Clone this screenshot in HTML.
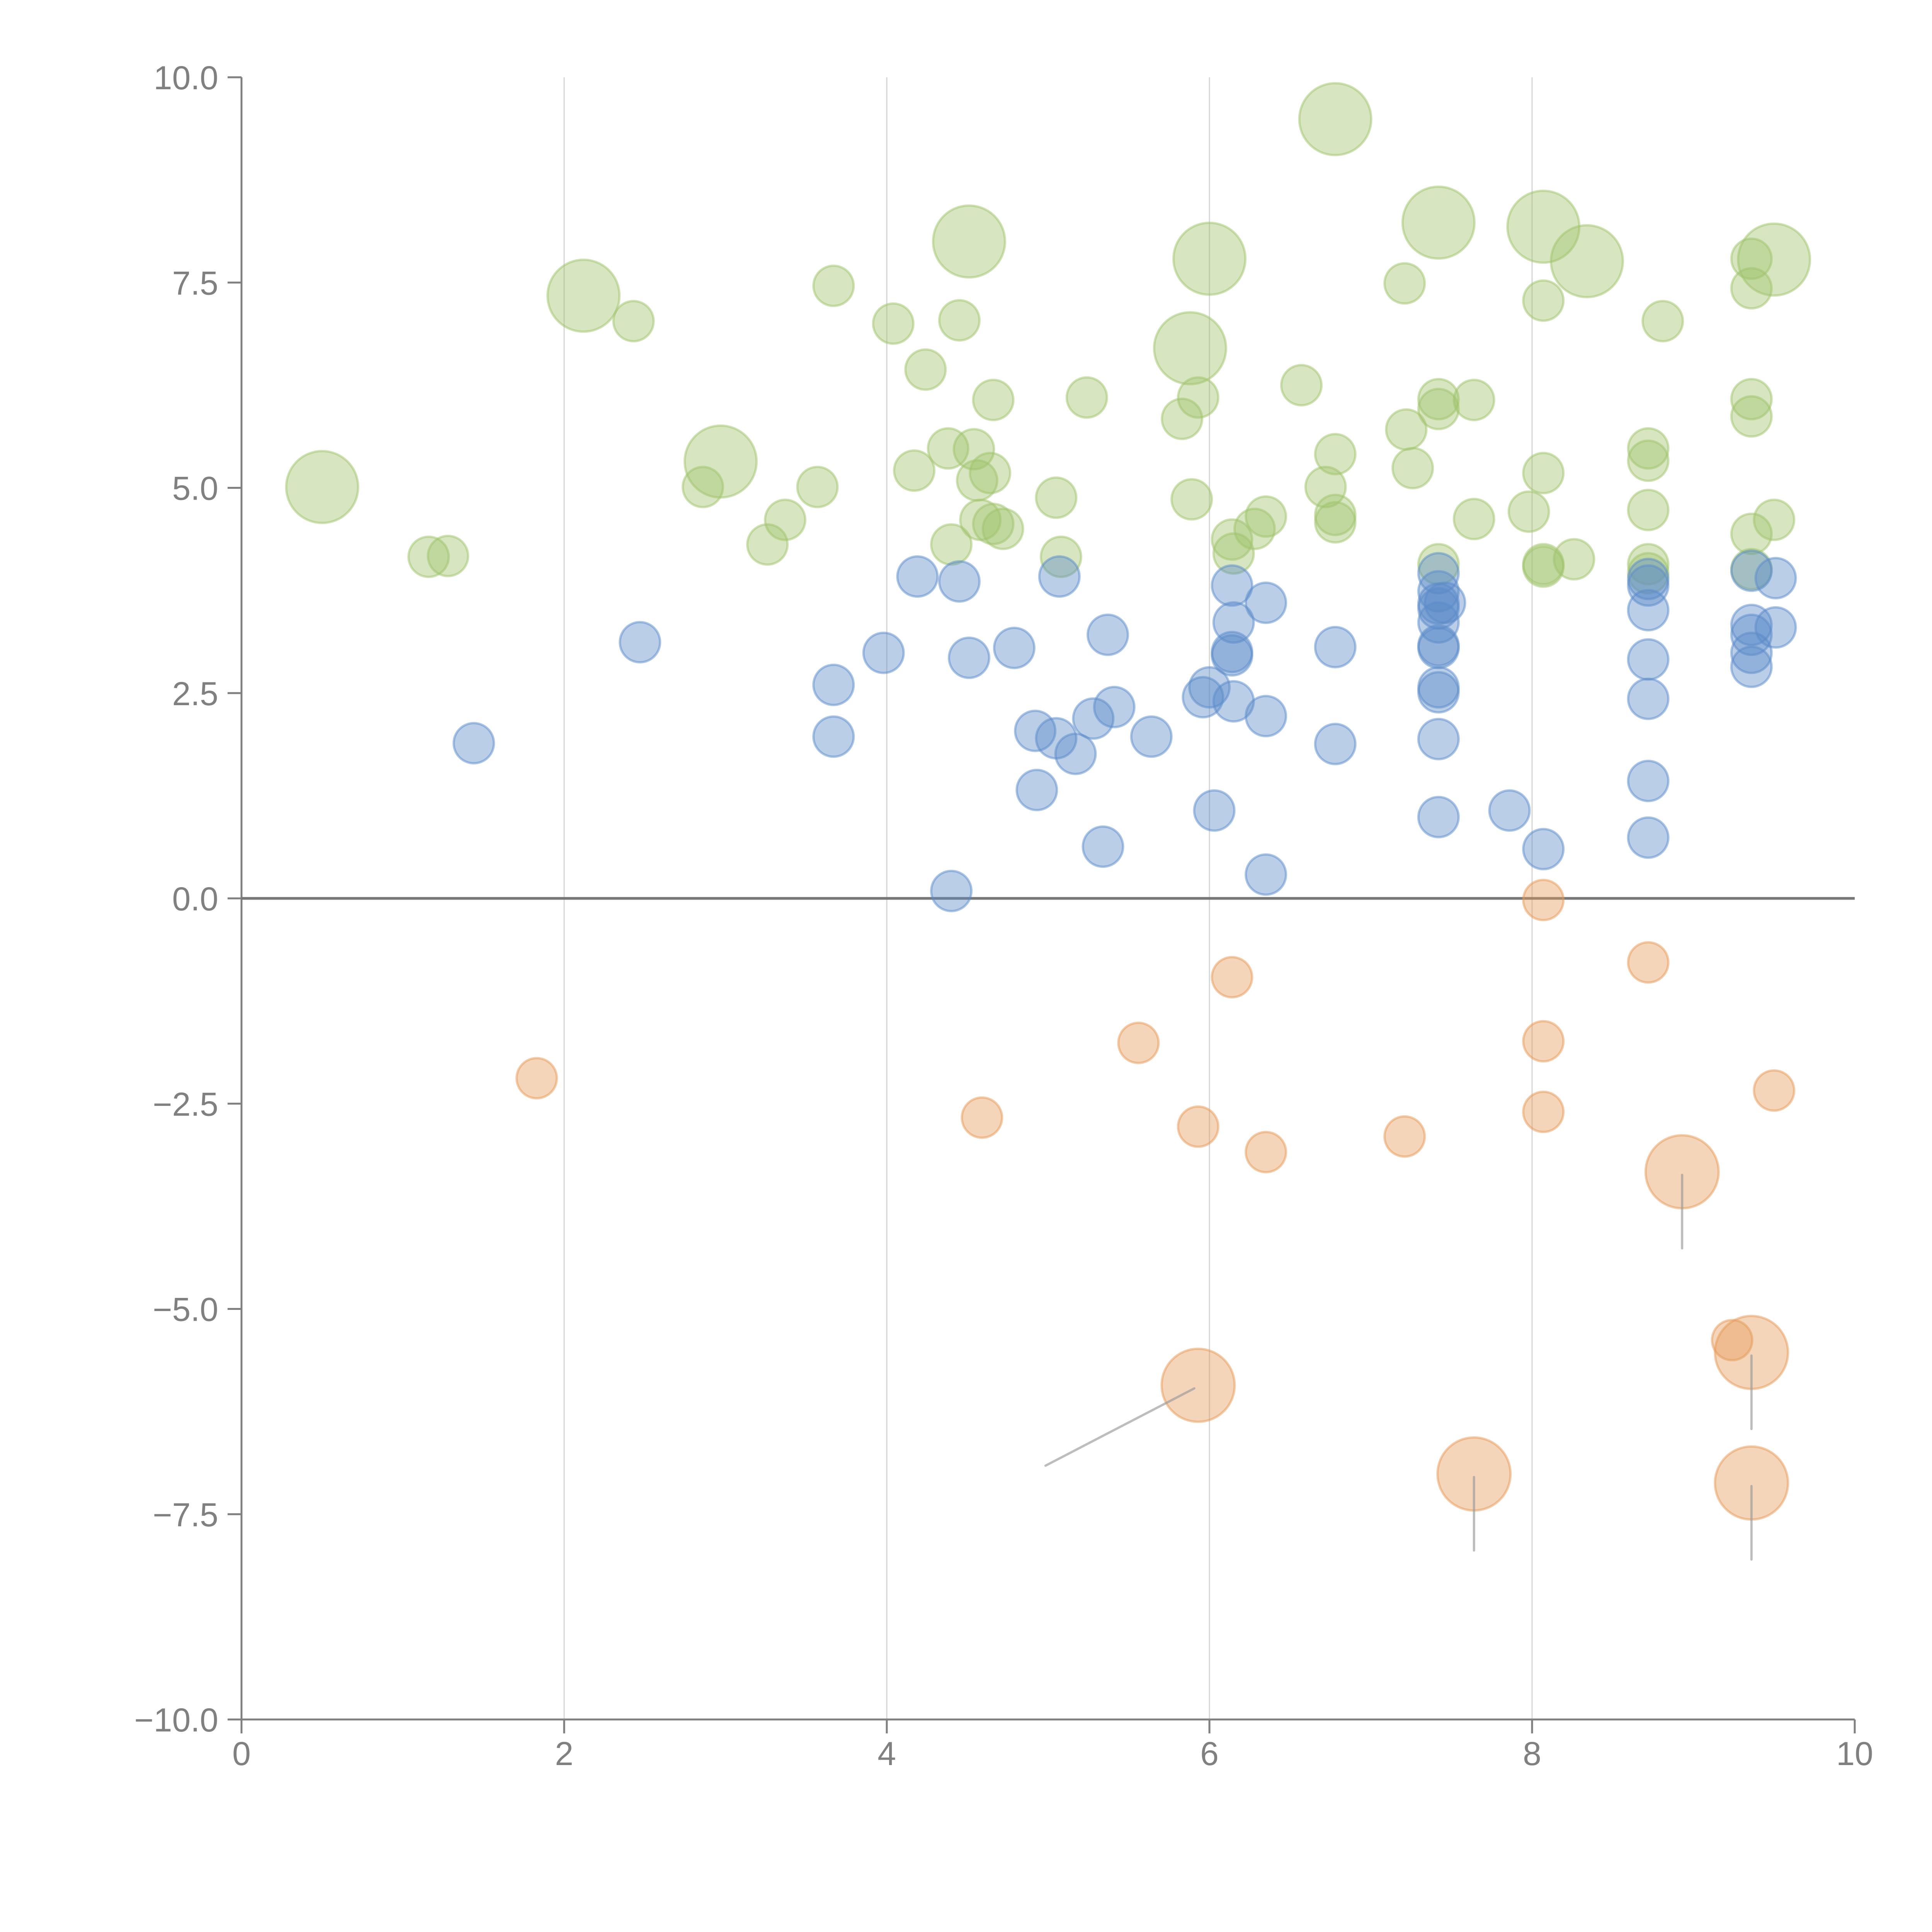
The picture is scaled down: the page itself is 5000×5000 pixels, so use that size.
<!DOCTYPE html>
<html><head><meta charset="utf-8"><style>html,body{margin:0;padding:0;background:#fff}svg{display:block}</style></head>
<body>
<svg id="chart" width="5000" height="5000" viewBox="0 0 5000 5000" xmlns="http://www.w3.org/2000/svg" font-family="Liberation Sans, Arial, sans-serif">
<g id="grid"></g>
<g id="axes"></g>
<g id="marks"></g>
<g id="leaders"></g>
</svg>
<script>
const xTicks=[0,2,4,6,8,10];
const xTickLabels=["0","2","4","6","8","10"];
const yTicks=[10,7.5,5,2.5,0,-2.5,-5,-7.5,-10];
const yTickLabels=["10.0","7.5","5.0","2.5","0.0","\u22122.5","\u22125.0","\u22127.5","\u221210.0"];
const greenX=[0.50,2.12,2.97,4.51,5.88,6.0,6.78,7.42,8.07,8.34,9.50,1.16,1.28,2.43,2.86,3.26,3.37,3.57,3.67,4.04,4.24,4.45,4.17,4.38,4.40,4.54,4.56,4.64,4.66,4.58,4.66,4.72,5.05,5.08,5.24,5.83,5.89,5.93,6.14,6.15,6.28,6.35,6.57,6.72,6.78,6.78,6.78,7.21,7.22,7.26,7.42,7.42,7.42,7.64,7.64,7.98,8.07,8.07,8.07,8.07,8.26,8.72,8.72,8.72,8.72,8.72,8.81,9.36,9.36,9.36,9.36,9.36,9.36,9.50];
const greenY=[5.01,7.34,5.32,8.0,6.70,7.79,9.49,8.23,8.18,7.76,7.78,4.16,4.17,7.03,5.01,4.31,4.61,5.01,7.46,7.0,6.44,7.04,5.21,5.48,4.31,5.47,5.09,5.18,6.07,4.61,4.56,4.50,4.88,4.16,6.10,5.84,4.86,6.10,4.37,4.20,4.50,4.65,6.25,5.01,5.41,4.67,4.58,7.49,5.71,5.24,6.08,5.96,4.07,6.07,4.62,4.71,7.28,5.18,4.07,4.04,4.13,5.48,5.33,4.73,4.07,3.96,7.03,7.79,7.43,6.08,5.87,4.44,4.01,4.61];
const greenSize=[3.2,3.2,3.2,3.2,3.2,3.2,3.2,3.2,3.2,3.2,3.2,1,1,1,1,1,1,1,1,1,1,1,1,1,1,1,1,1,1,1,1,1,1,1,1,1,1,1,1,1,1,1,1,1,1,1,1,1,1,1,1,1,1,1,1,1,1,1,1,1,1,1,1,1,1,1,1,1,1,1,1,1,1,1];
const blueX=[1.44,2.47,3.67,3.67,3.98,4.19,4.45,4.51,4.79,4.40,4.92,4.93,5.05,5.07,5.17,5.28,5.37,5.41,5.34,5.64,5.96,6.0,6.03,6.14,6.15,6.14,6.14,6.15,6.35,6.35,6.35,6.78,6.78,7.42,7.42,7.42,7.46,7.42,7.42,7.42,7.42,7.42,7.42,7.42,7.42,7.86,8.07,8.72,8.72,8.72,8.72,8.72,8.72,8.72,9.36,9.36,9.36,9.36,9.36,9.51,9.51];
const blueY=[1.89,3.12,2.60,1.97,2.99,3.92,3.86,2.93,3.05,0.09,2.04,1.32,1.95,3.92,1.76,2.19,3.21,2.33,0.63,1.97,2.45,2.57,1.07,3.81,3.36,3.0,2.96,2.40,3.60,2.22,0.29,3.06,1.88,3.96,3.74,3.59,3.60,3.53,3.36,3.08,3.05,2.57,2.51,1.94,0.99,1.07,0.60,3.89,3.81,3.51,2.91,2.43,1.43,0.74,3.99,3.33,3.21,2.99,2.82,3.90,3.30];
const orangeX=[1.83,4.59,5.56,5.93,6.14,6.35,7.21,8.07,8.07,8.07,8.72,9.50,9.24,8.93,5.93,7.64,9.36,9.36];
const orangeY=[-2.19,-2.67,-1.76,-2.78,-0.96,-3.09,-2.90,-0.02,-1.74,-2.60,-0.78,-2.34,-5.38,-3.33,-5.93,-7.01,-5.53,-7.12];
const orangeSize=[1,1,1,1,1,1,1,1,1,1,1,1,1,3.3,3.3,3.3,3.3,3.3];

const NS="http://www.w3.org/2000/svg";
const X0=625,X1=4800,Y0=4450,Y1=200;
function sx(v){return X0+(v-0)/(10-0)*(X1-X0);}
function sy(v){return Y0-(v+10)/20*(Y0-Y1);}
function mk(tag,attrs,parent){const e=document.createElementNS(NS,tag);for(const k in attrs)e.setAttribute(k,attrs[k]);parent.appendChild(e);return e;}
const grid=document.getElementById('grid'),axes=document.getElementById('axes'),marks=document.getElementById('marks'),leaders=document.getElementById('leaders');
const G='#808080';
xTicks.forEach((t,i)=>{
  if(t>0&&t<10){const l=mk('line',{x1:sx(t),x2:sx(t),y1:Y1,y2:Y0,stroke:'#d4d4d4','stroke-width':3},grid);
  
  }
  const tk=mk('line',{x1:sx(t),x2:sx(t),y1:Y0,y2:Y0+36,stroke:G,'stroke-width':5},axes);
  
  
  const tx=mk('text',{x:sx(t),y:4568,'text-anchor':'middle','font-size':86,fill:G},axes);
  tx.textContent=xTickLabels[i];
  
  
});
yTicks.forEach((t,i)=>{
  const tk=mk('line',{x1:X0-36,x2:X0,y1:sy(t),y2:sy(t),stroke:G,'stroke-width':5},axes);
  
  
  const tx=mk('text',{x:565,y:sy(t)+31,'text-anchor':'end','font-size':86,fill:G},axes);
  tx.textContent=yTickLabels[i];
  
  
});
const ya=mk('line',{x1:X0,x2:X0,y1:Y1,y2:Y0,stroke:G,'stroke-width':5},axes);


const xa=mk('line',{x1:X0,x2:X1,y1:Y0,y2:Y0,stroke:G,'stroke-width':5},axes);


const zl=mk('line',{x1:X0,x2:X1,y1:sy(0),y2:sy(0),stroke:'#777','stroke-width':7},axes);


function series(xs,ys,sz,color,name){
  xs.forEach((x,i)=>{
    const r=52*Math.sqrt(sz?sz[i]:1);
    const c=mk('circle',{cx:sx(x),cy:sy(ys[i]),r:r,fill:color,'fill-opacity':0.42,stroke:color,'stroke-opacity':0.5,'stroke-width':6},marks);
    
    
  });
}
series(greenX,greenY,greenSize,'#9fc46c','green-bubble');
series(blueX,blueY,null,'#5b8bc9','blue-bubble');
series(orangeX,orangeY,orangeSize,'#e59a58','orange-bubble');
// leader lines on large orange bubbles (offset in px is styling)
const leadIdx=[13,14,15,16,17];
const leadDx=[0,-395,0,0,0],leadDy=[190,200,190,190,190];
leadIdx.forEach((k,j)=>{
  const cx=sx(orangeX[k]),cy=sy(orangeY[k])+8;
  const l=mk('line',{x1:cx-(j==1?10:0),y1:cy,x2:cx+leadDx[j],y2:cy+leadDy[j],stroke:'#999','stroke-opacity':0.65,'stroke-width':6,'stroke-linecap':'round'},leaders);
  
  
});
</script>
</body></html>
